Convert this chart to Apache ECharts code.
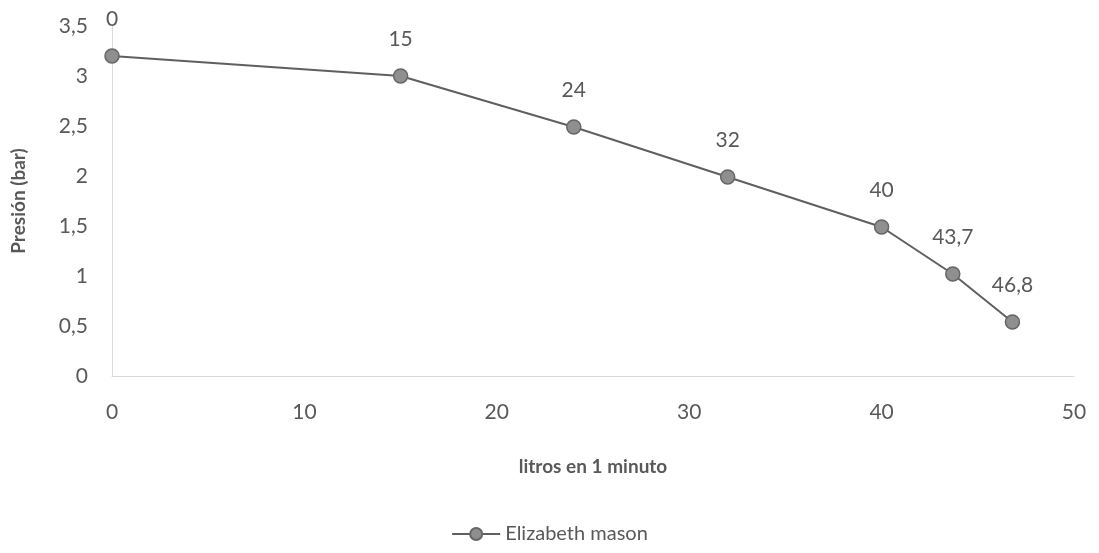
<!DOCTYPE html>
<html><head><meta charset="utf-8">
<script src="https://cdn.jsdelivr.net/npm/echarts@6/dist/echarts.min.js"></script>
<style>html,body{margin:0;padding:0;background:#fff}#c{width:1099px;height:553px}</style>
</head><body><div id="c"></div>
<script>
const litros = [0, 15, 24, 32, 40, 43.7, 46.8];
const presion = [3.2, 3.0, 2.49, 1.99, 1.49, 1.02, 0.54];
const seriesName = 'Elizabeth mason';
const xTitle = 'litros en 1 minuto';
const yTitle = 'Presión (bar)';
const comma = v => String(v).replace('.', ',');
const txt = '#595959';
const font = 'Lato, "Open Sans", sans-serif';
const chart = echarts.init(document.getElementById('c'));
chart.setOption({
  animation: false,
  textStyle: {fontFamily: font},
  grid: {left: 112, right: 25, top: 26, bottom: 177},
  legend: {
    bottom: 4, left: 'center', itemWidth: 48, itemHeight: 15,
    textStyle: {color: txt, fontSize: 20, fontFamily: font},
    data: [seriesName]
  },
  xAxis: {
    type: 'value', min: 0, max: 50, interval: 10,
    name: xTitle, nameLocation: 'middle', nameGap: 81,
    nameTextStyle: {color: txt, fontSize: 19, fontWeight: 'bold', fontFamily: font},
    axisLine: {lineStyle: {color: '#d9d9d9'}},
    axisTick: {show: false},
    splitLine: {show: false},
    axisLabel: {color: txt, fontSize: 21, margin: 26, formatter: comma}
  },
  yAxis: {
    type: 'value', min: 0, max: 3.5, interval: 0.5,
    name: yTitle, nameLocation: 'middle', nameGap: 84, nameRotate: 90,
    nameTextStyle: {color: txt, fontSize: 19, fontWeight: 'bold', fontFamily: font},
    axisLine: {show: true, lineStyle: {color: '#d9d9d9'}},
    axisTick: {show: false},
    splitLine: {show: false},
    axisLabel: {color: txt, fontSize: 21, margin: 24, formatter: comma}
  },
  series: [{
    name: seriesName, type: 'line',
    data: litros.map((x, i) => [x, presion[i]]),
    symbol: 'circle', symbolSize: 14,
    lineStyle: {color: '#5f5f5f', width: 2},
    itemStyle: {color: '#8f8f8f', borderColor: '#666', borderWidth: 1.5},
    label: {
      show: true, position: 'top', distance: 19,
      color: txt, fontSize: 21, fontFamily: font,
      formatter: p => comma(p.value[0])
    }
  }]
});
</script></body></html>
